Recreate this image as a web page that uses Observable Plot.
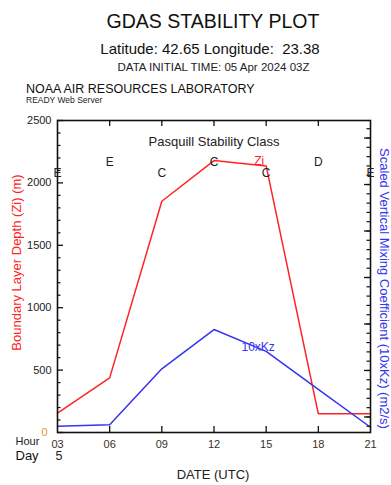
<!DOCTYPE html>
<html>
<head>
<meta charset="utf-8">
<script src="https://cdn.jsdelivr.net/npm/d3@7"></script>
<script src="https://cdn.jsdelivr.net/npm/@observablehq/plot@0.6"></script>
<style>
  html, body { margin: 0; padding: 0; background: #fff; }
  body { width: 391px; height: 485px; overflow: hidden; font-family: "Liberation Sans", Arial, sans-serif; }
  #header { display: block; }
  #chart svg { display: block; }
</style>
</head>
<body>
<svg id="header" width="391" height="108" xmlns="http://www.w3.org/2000/svg" font-family="Liberation Sans, Arial, sans-serif" fill="#111">
  <text x="213" y="28" text-anchor="middle" font-size="19.5">GDAS STABILITY PLOT</text>
  <text x="210" y="53.5" text-anchor="middle" font-size="15" xml:space="preserve">Latitude: 42.65 Longitude:  23.38</text>
  <text x="213.5" y="70.5" text-anchor="middle" font-size="11.5" fill="#222">DATA INITIAL TIME: 05 Apr 2024 03Z</text>
  <text x="26" y="93" font-size="12.5">NOAA AIR RESOURCES LABORATORY</text>
  <text x="26" y="102.5" font-size="8.5" fill="#222">READY Web Server</text>
</svg>
<div id="chart"></div>
<script>
// ---- data ----
const hours = [3, 6, 9, 12, 15, 18, 21];
const ziValues = [155, 438, 1853, 2179, 2136, 150, 150];          // Boundary layer depth (m)
const kzValues = [50, 62, 510, 825, 650, 345, 42];                // 10xKz, drawn on the scaled axis
const stabilityClass = ["E", "E", "C", "C", "C", "D", "E"];
const yTicks = [0, 500, 1000, 1500, 2000, 2500];
const yMinorTicks = d3.range(100, 2500, 100).filter(v => v % 500 !== 0);
const dayLabels = ["5"];

// ---- derived table ----
const rows = hours.map((h, i) => ({hour: h, zi: ziValues[i], kz: kzValues[i], cls: stabilityClass[i], idx: i}));
const innerHours = hours.slice(1, -1);
// right (scaled) axis ticks, spaced on that axis' own step
const rStep = 74.5, rMajorRef = 497;
const rightMinor = d3.range(-10, 40).map(k => rMajorRef + k * rStep).filter(v => v > 10 && v < 2490);
const rightMajor = rightMinor.filter(v => Math.abs(Math.round((v - rMajorRef) / rStep)) % 5 === 0);

const W = 391, H = 377, ML = 57, MR = 21, MT = 12, MB = 53;
const FW = W - ML - MR, FH = H - MT - MB;
const ink = "#111";
const font = "Liberation Sans, Arial, sans-serif";

const chart = Plot.plot({
  width: W, height: H,
  marginLeft: ML, marginRight: MR, marginTop: MT, marginBottom: MB,
  x: {type: "linear", domain: [3, 21]},
  y: {type: "linear", domain: [0, 2500]},
  style: {fontFamily: font, fontSize: "11px", color: "#222", background: "white", overflow: "visible"},
  marks: [
    Plot.line(rows, {x: "hour", y: "zi", stroke: "#ff2424", strokeWidth: 1.5}),
    Plot.line(rows, {x: "hour", y: "kz", stroke: "#3434f0", strokeWidth: 1.5}),
    Plot.frame({stroke: ink, strokeWidth: 1.6}),
    // inward ticks
    Plot.tickX(innerHours, {x: d => d, insetTop: FH - 6, stroke: ink, strokeWidth: 1.3}),
    Plot.tickX(innerHours, {x: d => d, insetBottom: FH - 6, stroke: ink, strokeWidth: 1.3}),
    Plot.tickY(yTicks, {y: d => d, insetRight: FW - 6, stroke: ink, strokeWidth: 1.3}),
    Plot.tickY(yMinorTicks, {y: d => d, insetRight: FW - 3.5, stroke: ink, strokeWidth: 1.2}),
    Plot.tickY(rightMajor, {y: d => d, insetLeft: FW - 6, stroke: ink, strokeWidth: 1.3}),
    Plot.tickY(rightMinor, {y: d => d, insetLeft: FW - 3.5, stroke: ink, strokeWidth: 1.2}),
    // axes labels
    Plot.axisX({anchor: "bottom", ticks: hours, tickSize: 0, tickPadding: 8, tickFormat: d => String(d).padStart(2, "0"), label: null, fontSize: 11, fill: "#3a3028"}),
    Plot.axisY({anchor: "left", ticks: yTicks.filter(v => v > 0), tickSize: 0, tickPadding: 6, tickFormat: d => String(d), label: null, fontSize: 11, fill: "#222"}),
    Plot.axisY({anchor: "left", ticks: [0], tickSize: 0, tickPadding: 10, tickFormat: d => String(d), label: null, fontSize: 11, fill: "#e8922a"}),
    // stability classes (alternating rows)
    Plot.text(rows.filter(d => d.idx % 2 === 0), {x: "hour", text: "cls", frameAnchor: "top", dy: 48, fontSize: 12, fill: "#222"}),
    Plot.text(rows.filter(d => d.idx % 2 === 1), {x: "hour", text: "cls", frameAnchor: "top", dy: 36.5, fontSize: 12, fill: "#222"}),
    Plot.text(["Pasquill Stability Class"], {frameAnchor: "top", dy: 16.5, fontSize: 13, fill: "#222"}),
    // line labels
    Plot.text(rows.filter(d => d.hour === 15), {x: "hour", y: "zi", text: () => "Zi", dx: -7, dy: -5, fontSize: 12, fill: "#ff2424"}),
    Plot.text(rows.filter(d => d.hour === 15), {x: "hour", y: "kz", text: () => "10xKz", dx: -8, dy: -4, fontSize: 12, fill: "#3434f0"}),
    // axis titles
    Plot.text(["Boundary Layer Depth (Zi) (m)"], {frameAnchor: "left", textAnchor: "middle", rotate: -90, dx: -41, dy: -14, fontSize: 13, fill: "#ff2424"}),
    Plot.text(["Scaled Vertical Mixing Coefficient (10xKz) (m2/s)"], {frameAnchor: "right", textAnchor: "middle", rotate: 90, dx: 14, dy: 12, fontSize: 13, fill: "#3434f0"}),
    // bottom annotations
    Plot.text(["Hour"], {frameAnchor: "bottom-left", textAnchor: "start", dx: -42, dy: 12.5, fontSize: 11, fill: "#222"}),
    Plot.text(["Day"], {frameAnchor: "bottom-left", textAnchor: "start", dx: -42, dy: 27, fontSize: 13, fill: "#111"}),
    Plot.text(dayLabels, {x: () => hours[0], frameAnchor: "bottom", dx: 1.5, dy: 27.5, fontSize: 12.5, fill: "#222"}),
    Plot.text(["DATE (UTC)"], {frameAnchor: "bottom", dx: -1, dy: 46, fontSize: 13, fill: "#222"})
  ]
});
document.getElementById("chart").appendChild(chart);
</script>
</body>
</html>
